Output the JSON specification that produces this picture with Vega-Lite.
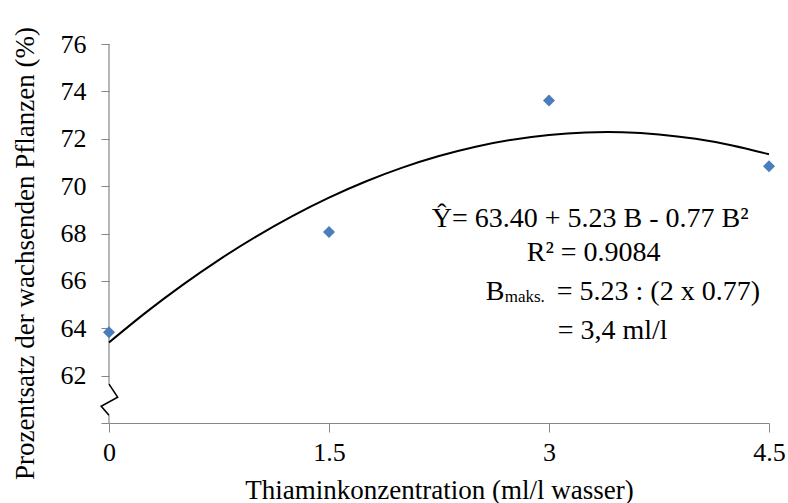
{
  "$schema": "https://vega.github.io/schema/vega-lite/v6.json",
  "width": 660,
  "height": 379,
  "autosize": {"type": "none"},
  "padding": {"left": 109, "top": 44, "right": 19, "bottom": 80},
  "background": "white",
  "config": {
    "view": {"stroke": null},
    "font": "Liberation Serif",
    "axis": {
      "labelFont": "Liberation Serif",
      "titleFont": "Liberation Serif",
      "labelColor": "black",
      "titleColor": "black",
      "titleFontWeight": "normal",
      "domainColor": "#868686",
      "tickColor": "#868686",
      "grid": false
    },
    "axisX": {"labelFont": "Liberation Serif", "titleFont": "Liberation Serif"},
    "axisY": {"labelFont": "Liberation Serif", "titleFont": "Liberation Serif"}
  },
  "datasets": {
    "obs": [
      {"x": 0, "y": 63.83},
      {"x": 1.5, "y": 68.06},
      {"x": 3, "y": 73.62},
      {"x": 4.5, "y": 70.84}
    ],
    "fit": [
      {"x": 0, "y": 63.4},
      {"x": 0.25, "y": 64.659},
      {"x": 0.5, "y": 65.823},
      {"x": 0.75, "y": 66.889},
      {"x": 1.0, "y": 67.86},
      {"x": 1.25, "y": 68.734},
      {"x": 1.5, "y": 69.513},
      {"x": 1.75, "y": 70.194},
      {"x": 2.0, "y": 70.78},
      {"x": 2.25, "y": 71.269},
      {"x": 2.5, "y": 71.663},
      {"x": 2.75, "y": 71.959},
      {"x": 3.0, "y": 72.16},
      {"x": 3.25, "y": 72.264},
      {"x": 3.5, "y": 72.273},
      {"x": 3.75, "y": 72.184},
      {"x": 4.0, "y": 72.0},
      {"x": 4.25, "y": 71.719},
      {"x": 4.5, "y": 71.343}
    ],
    "axisline": [
      {"x": 0, "y": 61.64, "y2": 76},
      {"x": 0, "y": 60, "y2": 60.33}
    ],
    "zigzag": [
      {"x": 0, "y": 61.64, "o": 1},
      {"x": 0.059, "y": 61.09, "o": 2},
      {"x": -0.053, "y": 60.71, "o": 3},
      {"x": 0, "y": 60.33, "o": 4}
    ],
    "eq": [
      {"x": 2.2, "y": 68.27, "t": "Ŷ= 63.40 + 5.23 B - 0.77 B²"},
      {"x": 2.848, "y": 66.84, "t": "R² = 0.9084"},
      {"x": 2.568, "y": 65.19, "t": "B"},
      {"x": 3.053, "y": 65.19, "t": "= 5.23 : (2 x 0.77)"},
      {"x": 3.059, "y": 63.54, "t": "= 3,4 ml/l"}
    ],
    "eqsub": [
      {"x": 2.698, "y": 65.12, "t": "maks."}
    ]
  },
  "layer": [
    {
      "data": {"name": "axisline"},
      "mark": {"type": "rule", "color": "#868686", "strokeWidth": 1.2},
      "encoding": {
        "x": {
          "field": "x",
          "type": "quantitative",
          "scale": {"domain": [0, 4.5], "nice": false, "zero": false},
          "axis": {
            "title": "Thiaminkonzentration (ml/l wasser)",
            "values": [0, 1.5, 3, 4.5],
            "format": "~g",
            "labelFont": "Liberation Serif",
            "titleFont": "Liberation Serif",
            "labelFontSize": 26,
            "titleFontSize": 27,
            "tickSize": 9,
            "labelBaseline": "alphabetic",
            "labelPadding": 28,
            "titleBaseline": "alphabetic",
            "titleY": 75,
            "labelFlush": false,
            "labelOverlap": false
          }
        },
        "y": {
          "field": "y",
          "type": "quantitative",
          "scale": {"domain": [60, 76], "nice": false, "zero": false},
          "axis": {
            "title": "Prozentsatz der wachsenden Pflanzen (%)",
            "values": [60, 62, 64, 66, 68, 70, 72, 74, 76],
            "labelExpr": "datum.value == 60 ? '' : datum.label",
            "domain": false,
            "labelFont": "Liberation Serif",
            "titleFont": "Liberation Serif",
            "labelFontSize": 26,
            "titleFontSize": 27,
            "tickSize": 8,
            "labelPadding": 15,
            "titleX": -76,
            "titleY": 209,
            "titleAlign": "center",
            "titleBaseline": "alphabetic",
            "titleAngle": -90,
            "labelOverlap": false
          }
        },
        "y2": {"field": "y2"}
      }
    },
    {
      "data": {"name": "zigzag"},
      "mark": {"type": "line", "color": "black", "strokeWidth": 1.6},
      "encoding": {
        "x": {"field": "x", "type": "quantitative"},
        "y": {"field": "y", "type": "quantitative"},
        "order": {"field": "o", "type": "quantitative"}
      }
    },
    {
      "data": {"name": "fit"},
      "mark": {"type": "line", "color": "black", "strokeWidth": 2, "interpolate": "natural"},
      "encoding": {
        "x": {"field": "x", "type": "quantitative"},
        "y": {"field": "y", "type": "quantitative"}
      }
    },
    {
      "data": {"name": "obs"},
      "mark": {"type": "point", "shape": "diamond", "filled": true, "size": 144, "color": "#4A7EBB", "opacity": 1},
      "encoding": {
        "x": {"field": "x", "type": "quantitative"},
        "y": {"field": "y", "type": "quantitative"}
      }
    },
    {
      "data": {"name": "eq"},
      "mark": {"type": "text", "align": "left", "baseline": "alphabetic", "fontSize": 28, "font": "Liberation Serif", "color": "black"},
      "encoding": {
        "x": {"field": "x", "type": "quantitative"},
        "y": {"field": "y", "type": "quantitative"},
        "text": {"field": "t"}
      }
    },
    {
      "data": {"name": "eqsub"},
      "mark": {"type": "text", "align": "left", "baseline": "alphabetic", "fontSize": 17, "font": "Liberation Serif", "color": "black"},
      "encoding": {
        "x": {"field": "x", "type": "quantitative"},
        "y": {"field": "y", "type": "quantitative"},
        "text": {"field": "t"}
      }
    }
  ]
}
